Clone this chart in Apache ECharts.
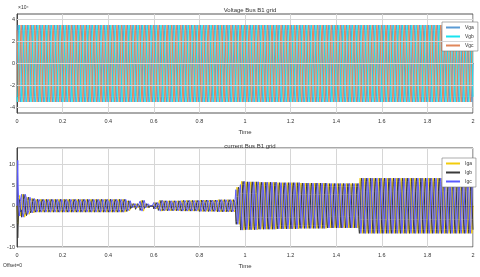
<!DOCTYPE html>
<html><head><meta charset="utf-8">
<script src="https://cdn.jsdelivr.net/npm/echarts@6/dist/echarts.min.js"></script>
<style>html,body{margin:0;padding:0;background:#fff}#c{width:480px;height:277px}</style>
</head><body><div id="c"></div>
<script>
// ---- data ----
const FREQ_HZ = 50;
const CYCLES = 100;                     // 2 s of 50 Hz
const timeTicks = [0,0.2,0.4,0.6,0.8,1,1.2,1.4,1.6,1.8,2];
// one cycle of the waveform, sampled 12 times
const waveShape = [0,0.5,0.866,1,0.866,0.5,0,-0.5,-0.866,-1,-0.866,-0.5];
const phaseShift = [0, 8, 4];           // A, B (-120°), C (+120°) in samples
const voltNames = ['Vga','Vgb','Vgc'];
const voltPeak = 3.5;                   // x10^4
const voltTicks = [-4,-2,0,2,4];
const currNames = ['Iga','Igb','Igc'];
const currTicks = [-10,-5,0,5,10];
// peak current of each 20 ms cycle (cycle 0 = start-up transient below)
const currPeak = [
  0, 3.2, 2.4, 2.0, 1.8, 1.8, 1.8, 1.8, 1.8, 1.8,
  1.8, 1.8, 1.8, 1.8, 1.8, 1.8, 1.8, 1.8, 1.8, 1.8,
  1.8, 1.8, 1.8, 1.8, 1.4, 0.6, 1.0, 1.3, 1.0, 0.4,
  0.9, 1.3, 1.4, 1.4, 1.4, 1.4, 1.5, 1.5, 1.5, 1.5,
  1.6, 1.6, 1.6, 1.6, 1.7, 1.7, 1.7, 1.7, 4.5, 5.9,
  5.8, 5.8, 5.8, 5.7, 5.7, 5.7, 5.7, 5.6, 5.6, 5.6,
  5.6, 5.6, 5.5, 5.5, 5.5, 5.5, 5.5, 5.5, 5.4, 5.4,
  5.4, 5.4, 5.4, 5.4, 5.4, 6.7, 6.7, 6.7, 6.7, 6.7,
  6.7, 6.7, 6.7, 6.7, 6.7, 6.7, 6.7, 6.7, 6.7, 6.7,
  6.7, 6.7, 6.7, 6.7, 6.7, 6.7, 6.7, 6.7, 6.7, 6.7
];
// start-up transient (first cycle samples)
const currStartA = [0, -2, -4.5, -3, -1, 1, 2.5, 2, 0.5, -1, -2.5, -2];
const currStartB = [0, -4, -7.8, -5, -2, 0, 1.5, 1.5, 0.5, -0.5, -1.5, -1];
const currStartC = [0, 7, 11, 5, 2, -1, -2.5, -2.5, -1, 1, 2, 2];

// ---- build ----
function buildWave(ampOf, shift, start) {
  const n = waveShape.length, pts = [];
  for (let k = 0; k < CYCLES; k++) {
    for (let j = 0; j < n; j++) {
      const t = +((k * n + j) / (n * FREQ_HZ)).toFixed(6);
      const v = (k === 0 && start) ? start[j] : ampOf(k) * waveShape[(j + shift) % n];
      pts.push([t, v]);
    }
  }
  pts.push([CYCLES / FREQ_HZ, ampOf(CYCLES - 1) * waveShape[shift % n]]);
  return pts;
}
const voltColors = ['#5a9bd4', '#19e3ef', '#e0875a'];
const currColors = ['#f2cc0c', '#3a3a3a', '#5a5aff'];
const currStarts = [currStartA, currStartB, currStartC];

const font = 'Liberation Sans, Arial, sans-serif';
const txt = '#333';
function xAx(gi) {
  return {
    type: 'value', gridIndex: gi, min: 0, max: 2, interval: 0.2,
    name: 'Time', nameLocation: 'middle', nameGap: 16,
    nameTextStyle: {fontSize: 6, color: txt, fontFamily: font},
    axisLine: {show: true, lineStyle: {color: '#444', width: 1}},
    axisTick: {show: false},
    axisLabel: {fontSize: 5.5, color: txt, fontFamily: font, margin: 5},
    splitLine: {show: true, lineStyle: {color: '#d6d6d6', width: 1}}
  };
}
const series = [];
series.push({
  type: 'line', xAxisIndex: 0, yAxisIndex: 0, data: [], z: 1, silent: true,
  markLine: {silent: true, symbol: 'none', label: {show: false}, animation: false,
    lineStyle: {color: '#d6d6d6', width: 1, type: 'solid'},
    data: voltTicks.map(v => ({yAxis: v}))}
});
voltNames.forEach((nm, i) => series.push({
  name: nm, type: 'line', xAxisIndex: 0, yAxisIndex: 0, showSymbol: false, symbol: 'none',
  silent: true, color: voltColors[i], lineStyle: {width: 1, color: voltColors[i]},
  data: buildWave(() => voltPeak, phaseShift[i], null)
}));
currNames.forEach((nm, i) => series.push({
  name: nm, type: 'line', xAxisIndex: 1, yAxisIndex: 1, showSymbol: false, symbol: 'none',
  silent: true, color: currColors[i], lineStyle: {width: 1, color: currColors[i]},
  data: buildWave(k => currPeak[k], phaseShift[i], currStarts[i])
}));

const legendBase = {
  orient: 'vertical', icon: 'rect', itemWidth: 14, itemHeight: 2, itemGap: 4,
  padding: [3, 4, 3, 4], backgroundColor: '#fff', borderColor: '#777', borderWidth: 0.6,
  textStyle: {fontSize: 5, color: txt, fontFamily: font}
};
const gridBase = {left: 17, right: 7, height: 99, show: true, borderColor: '#555', borderWidth: 1,
  backgroundColor: '#fff', containLabel: false, outerBoundsMode: 'none'};
const option = {
  animation: false,
  backgroundColor: '#fff',
  title: [
    {text: 'Voltage Bus B1 grid', left: 245, textAlign: 'center', top: 2,
     textStyle: {fontSize: 6, fontWeight: 'normal', color: txt, fontFamily: font}},
    {text: 'current Bus B1 grid', left: 245, textAlign: 'center', top: 138,
     textStyle: {fontSize: 6, fontWeight: 'normal', color: txt, fontFamily: font}}
  ],
  legend: [
    Object.assign({}, legendBase, {data: voltNames, left: 442, top: 22}),
    Object.assign({}, legendBase, {data: currNames, left: 442, top: 158})
  ],
  grid: [
    Object.assign({}, gridBase, {top: 14}),
    Object.assign({}, gridBase, {top: 148})
  ],
  xAxis: [xAx(0), xAx(1)],
  yAxis: [
    {type: 'value', gridIndex: 0, min: -4.5, max: 4.5, interval: 0.5,
     name: 'V_B1_grid', nameLocation: 'middle', nameGap: 9, nameRotate: 90,
     nameTextStyle: {fontSize: 5, color: txt, fontFamily: font},
     axisLine: {show: true, lineStyle: {color: '#444'}}, axisTick: {show: false},
     axisLabel: {fontSize: 5.5, color: txt, fontFamily: font, margin: 2,
       formatter: v => (voltTicks.indexOf(Math.round(v * 100) / 100) >= 0 ? String(v) : '')},
     splitLine: {show: false}},
    {type: 'value', gridIndex: 1, min: -10, max: 14, interval: 5,
     name: 'I_B1_grid', nameLocation: 'middle', nameGap: 9, nameRotate: 90,
     nameTextStyle: {fontSize: 5, color: txt, fontFamily: font},
     axisLine: {show: true, lineStyle: {color: '#444'}}, axisTick: {show: false},
     axisLabel: {fontSize: 5.5, color: txt, fontFamily: font, margin: 2, showMaxLabel: false},
     splitLine: {show: true, lineStyle: {color: '#d6d6d6', width: 1}}}
  ],
  graphic: [
    {type: 'text', left: 18, top: 5, style: {text: '×10⁴', fontSize: 5, fill: txt, fontFamily: font}},
    {type: 'text', left: 3, top: 263, style: {text: 'Offset=0', fontSize: 5, fill: txt, fontFamily: font}}
  ],
  series: series
};
const chart = echarts.init(document.getElementById('c'), null, {renderer: 'canvas'});
chart.setOption(option);
</script></body></html>
